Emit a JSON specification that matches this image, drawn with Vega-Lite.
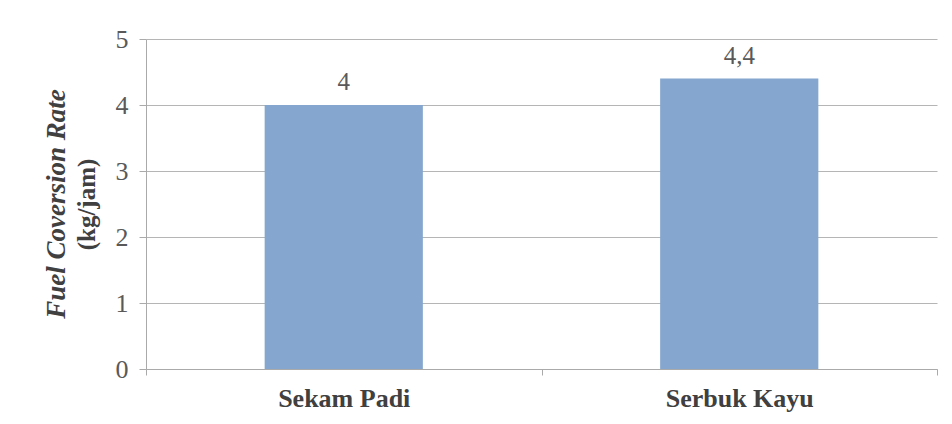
{
  "$schema": "https://vega.github.io/schema/vega-lite/v6.json",
  "width": 791,
  "height": 330,
  "autosize": "none",
  "padding": {"left": 146, "top": 39, "right": 15, "bottom": 55},
  "background": "white",
  "title": {
    "text": "Fuel Coversion Rate",
    "orient": "left",
    "anchor": "middle",
    "font": "Liberation Serif",
    "fontSize": 27,
    "fontWeight": "bold",
    "fontStyle": "italic",
    "color": "#404040",
    "offset": 3
  },
  "data": {
    "values": [
      {"bahan": "Sekam Padi", "rate": 4, "label": "4"},
      {"bahan": "Serbuk Kayu", "rate": 4.4, "label": "4,4"}
    ]
  },
  "encoding": {
    "x": {
      "field": "bahan",
      "type": "nominal",
      "sort": null,
      "scale": {"paddingInner": 0, "paddingOuter": 0},
      "axis": {
        "title": null,
        "labelAngle": 0,
        "labelFont": "Liberation Serif",
        "labelFontSize": 26,
        "labelFontWeight": "bold",
        "labelColor": "#404040",
        "labelPadding": 10,
        "domainColor": "#aaaaaa",
        "tickColor": "#aaaaaa",
        "tickSize": 6,
        "tickBand": "extent",
        "grid": false
      }
    },
    "y": {
      "field": "rate",
      "type": "quantitative",
      "scale": {"domain": [0, 5]},
      "axis": {
        "title": "(kg/jam)",
        "titleFont": "Liberation Serif",
        "titleFontSize": 25,
        "titleFontWeight": "bold",
        "titleColor": "#404040",
        "titlePadding": 16,
        "values": [0, 1, 2, 3, 4, 5],
        "labelFont": "Liberation Serif",
        "labelFontSize": 26,
        "labelColor": "#595959",
        "labelPadding": 11,
        "tickSize": 7,
        "tickColor": "#aaaaaa",
        "domainColor": "#aaaaaa",
        "gridColor": "#b5b5b5",
        "grid": true
      }
    }
  },
  "layer": [
    {"mark": {"type": "bar", "color": "#84A6CF", "width": {"band": 0.4}}},
    {
      "mark": {"type": "text", "baseline": "bottom", "dy": -10, "font": "Liberation Serif", "fontSize": 25, "color": "#595959"},
      "encoding": {"text": {"field": "label"}}
    }
  ],
  "config": {"view": {"stroke": null}}
}
